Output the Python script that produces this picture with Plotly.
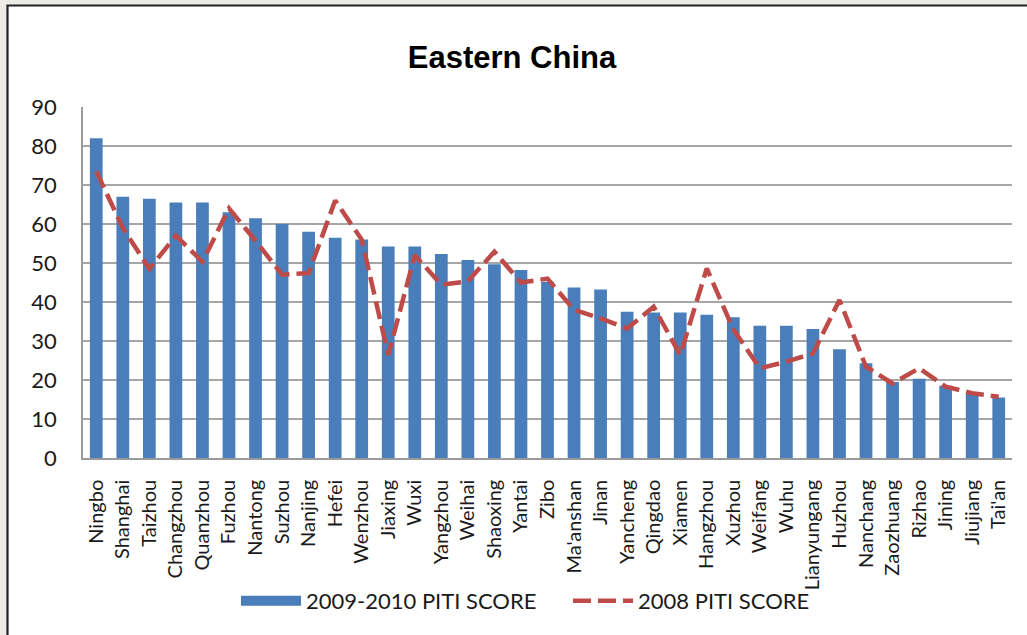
import plotly.graph_objects as go

cities = ["Ningbo", "Shanghai", "Taizhou", "Changzhou", "Quanzhou", "Fuzhou", "Nantong",
          "Suzhou", "Nanjing", "Hefei", "Wenzhou", "Jiaxing", "Wuxi", "Yangzhou", "Weihai",
          "Shaoxing", "Yantai", "Zibo", "Ma'anshan", "Jinan", "Yancheng", "Qingdao", "Xiamen",
          "Hangzhou", "Xuzhou", "Weifang", "Wuhu", "Lianyungang", "Huzhou", "Nanchang",
          "Zaozhuang", "Rizhao", "Jining", "Jiujiang", "Tai'an"]
score_2009_2010 = [82, 67, 66.5, 65.5, 65.5, 63, 61.5, 60, 58, 56.5, 56, 54.2, 54.2, 52.3, 50.8,
                   49.7, 48.2, 45.2, 43.7, 43.2, 37.5, 37.3, 37.3, 36.7, 36.1, 33.9, 33.9, 33.1,
                   27.9, 24.3, 19.5, 20.3, 18.5, 16.6, 15.5]
score_2008 = [73.5, 59, 48.5, 57, 50.3, 64, 55.7, 47, 47.4, 66, 56, 26.4, 52, 44.4, 45.3, 52.9,
              45, 46, 38, 35.8, 33.2, 38.8, 26.4, 48.6, 33, 23, 24.7, 26.8, 40.5, 23.4, 19.1, 23,
              18.3, 16.6, 15.7]
series_names = ["2009-2010 PITI SCORE", "2008 PITI SCORE"]
title_text = "Eastern China"
y_ticks = list(range(0, 100, 10))

BLUE = "#4A7EBB"
RED = "#BE4B48"
FONT = "Lato"
TXT = "#1A1A1A"

W, H = 1027, 635
ml, mr, mt, mb = 83, 15, 107, 177
pw, ph = W - ml - mr, H - mt - mb


def px_x(p):
    return (p - ml) / pw


def px_y(p):
    return (H - mb - p) / ph


fig = go.Figure()
fig.add_trace(go.Bar(x=cities, y=score_2009_2010, name=series_names[0], marker_color=BLUE,
                     marker_line_width=0, showlegend=False))
fig.add_trace(go.Scatter(x=cities, y=score_2008, name=series_names[1], mode="lines",
                         line=dict(color=RED, width=4.5, dash="18px,7px"), showlegend=False))
# legend entries
fig.add_trace(go.Scatter(x=[None], y=[None], name=series_names[0], mode="lines",
                         line=dict(color=BLUE, width=11)))
fig.add_trace(go.Scatter(x=[None], y=[None], name=series_names[1], mode="lines",
                         line=dict(color=RED, width=4.5, dash="18px,7px")))

# outer frame
fig.add_shape(type="rect", xref="paper", yref="paper",
              x0=px_x(7.5), x1=px_x(1040), y0=px_y(5.5), y1=px_y(650),
              fillcolor="white", line=dict(color="#222222", width=2.2), layer="below")

fig.update_layout(
    width=W, height=H,
    margin=dict(l=ml, r=mr, t=mt, b=mb, autoexpand=False),
    paper_bgcolor="#ECEBE6",
    plot_bgcolor="white",
    bargap=0.52,
    title=dict(text="<b>" + title_text + "</b>", x=512 / W, xref="container", xanchor="center",
               y=1 - 57 / H, yref="container", yanchor="middle",
               font=dict(family="Liberation Sans, Arial", size=31, color="black")),
    font=dict(family=FONT, color=TXT),
    legend=dict(orientation="h", x=px_x(236), xanchor="left", y=px_y(601), yanchor="middle",
                font=dict(family=FONT, size=22, color=TXT),
                itemwidth=60, bgcolor="rgba(0,0,0,0)", traceorder="normal",
                entrywidth=257),
    xaxis=dict(type="category", tickangle=-90, tickfont=dict(family=FONT, size=20, color=TXT),
               showline=True, linecolor="#9A9A9A", linewidth=1.5, ticks="outside", ticklen=12,
               tickcolor="rgba(0,0,0,0)", showgrid=False, range=[-0.5, len(cities) - 0.5],
               automargin=False),
    yaxis=dict(range=[0, 90], tickvals=y_ticks, tickfont=dict(family=FONT, size=22, color=TXT),
               showline=True, linecolor="#9A9A9A", linewidth=1.5, showgrid=True,
               gridcolor="#A6A6A6", gridwidth=1.5, ticks="outside", ticklen=20,
               tickcolor="rgba(0,0,0,0)", zeroline=False, automargin=False),
)

fig.write_html("out.html", config={"displayModeBar": False},
               post_script="document.body.style.margin='0';")
